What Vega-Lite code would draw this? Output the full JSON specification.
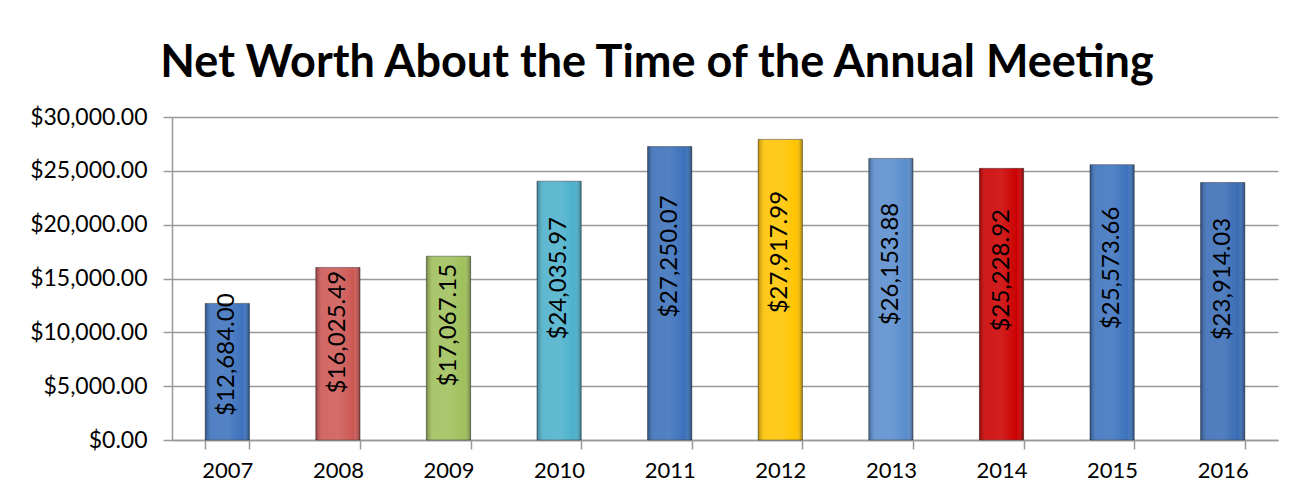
{
  "$schema": "https://vega.github.io/schema/vega-lite/v6.json",
  "autosize": "none",
  "width": 1106,
  "height": 323,
  "padding": {"left": 172, "top": 117, "right": 29, "bottom": 64},
  "background": "white",
  "title": {
    "text": "Net Worth About the Time of the Annual Meeting",
    "font": "Lato",
    "fontSize": 45,
    "fontWeight": "bold",
    "color": "black",
    "anchor": "middle",
    "frame": "group",
    "dx": -68,
    "offset": 20
  },
  "data": {
    "values": [
      {"year": "2007", "value": 12684.00, "color": "#3d72bd"},
      {"year": "2008", "value": 16025.49, "color": "#cd5855"},
      {"year": "2009", "value": 17067.15, "color": "#9fc05b"},
      {"year": "2010", "value": 24035.97, "color": "#4db1cc"},
      {"year": "2011", "value": 27250.07, "color": "#3b70ba"},
      {"year": "2012", "value": 27917.99, "color": "#ffc400"},
      {"year": "2013", "value": 26153.88, "color": "#5a8dcd"},
      {"year": "2014", "value": 25228.92, "color": "#cc0000"},
      {"year": "2015", "value": 25573.66, "color": "#3c73be"},
      {"year": "2016", "value": 23914.03, "color": "#3a6db6"}
    ]
  },
  "encoding": {
    "x": {
      "field": "year",
      "type": "ordinal",
      "scale": {"paddingInner": 0.6, "paddingOuter": 0.3},
      "axis": {
        "title": null,
        "labelAngle": 0,
        "labelFont": "Lato",
        "labelFontSize": 22,
        "labelColor": "black",
        "labelPadding": 11,
        "tickBand": "extent",
        "tickSize": 9,
        "tickColor": "#999999",
        "tickWidth": 1.5,
        "domainColor": "#999999",
        "domainWidth": 1.5
      }
    }
  },
  "layer": [
    {
      "mark": {"type": "bar", "stroke": "#333333", "strokeOpacity": 0.5, "strokeWidth": 1},
      "encoding": {
        "y": {
          "field": "value",
          "type": "quantitative",
          "scale": {"domain": [0, 30000]},
          "axis": {
            "title": null,
            "format": "$,.2f",
            "values": [0, 5000, 10000, 15000, 20000, 25000, 30000],
            "labelFont": "Lato",
            "labelFontSize": 23,
            "labelColor": "black",
            "labelPadding": 16,
            "tickSize": 9,
            "tickColor": "#999999",
            "tickWidth": 1.5,
            "domainColor": "#999999",
            "domainWidth": 1.5,
            "grid": true,
            "gridColor": "#999999",
            "gridWidth": 1.5
          }
        },
        "color": {"field": "color", "type": "nominal", "scale": null, "legend": null}
      }
    },
    {
      "mark": {
        "type": "bar",
        "fill": {
          "gradient": "linear",
          "x1": 0, "x2": 1, "y1": 0, "y2": 0,
          "stops": [
            {"offset": 0, "color": "rgba(0,0,0,0.30)"},
            {"offset": 0.15, "color": "rgba(255,255,255,0.10)"},
            {"offset": 0.5, "color": "rgba(255,255,255,0.12)"},
            {"offset": 0.85, "color": "rgba(255,255,255,0.0)"},
            {"offset": 1, "color": "rgba(0,0,0,0.35)"}
          ]
        }
      },
      "encoding": {
        "y": {"field": "value", "type": "quantitative", "scale": {"domain": [0, 30000]}, "axis": null}
      }
    },
    {
      "mark": {
        "type": "text",
        "angle": 270,
        "align": "center",
        "baseline": "middle",
        "font": "Lato",
        "fontSize": 24,
        "color": "black"
      },
      "encoding": {
        "y": {"field": "value", "type": "quantitative", "scale": {"domain": [0, 48000]}, "axis": null},
        "text": {"field": "value", "type": "quantitative", "format": "$,.2f"}
      }
    }
  ],
  "resolve": {"scale": {"y": "independent"}},
  "config": {"view": {"stroke": null}}
}
